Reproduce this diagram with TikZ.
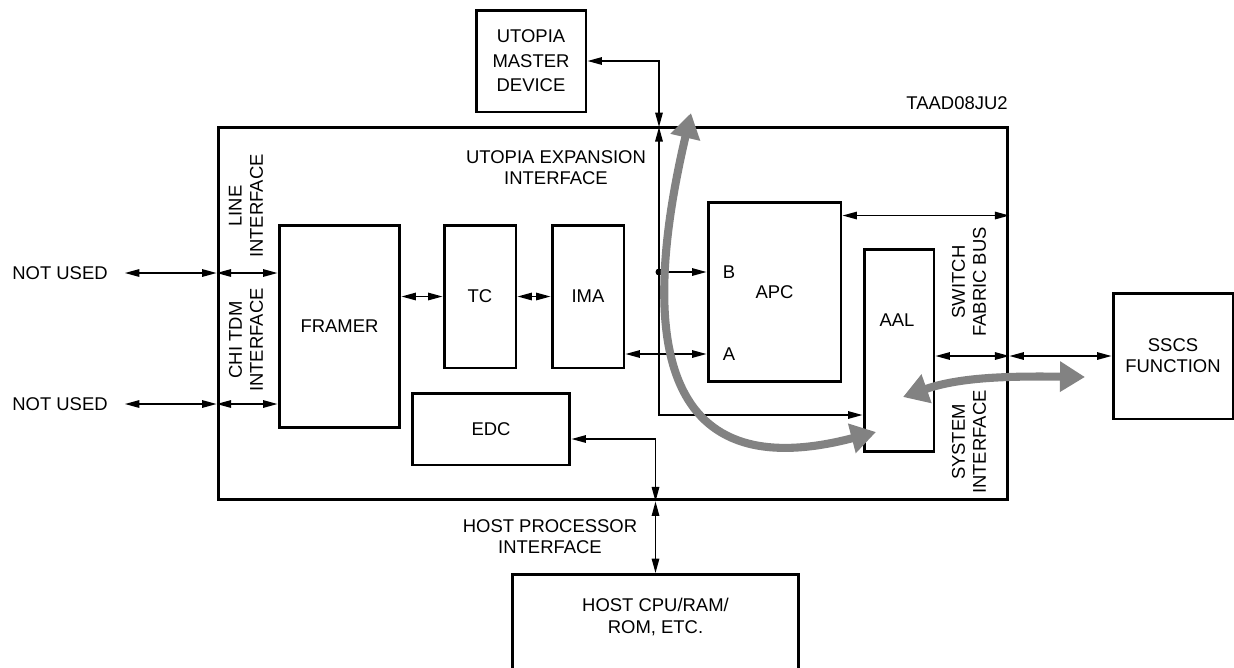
\documentclass[tikz,border=0pt]{standalone}
\usepackage{fontspec}
\setmainfont{Liberation Sans}
\usetikzlibrary{arrows.meta}
\definecolor{flow}{HTML}{828282}

\begin{document}
\begin{tikzpicture}[x=0.02cm, y=-0.02cm,
    every node/.style={font=\fontsize{10.5}{12}\selectfont, align=center},
    blk/.style={draw, line width=1.7pt, inner sep=0pt},
    dbl/.style={{Triangle[length=0.29cm,width=0.15cm]}-{Triangle[length=0.29cm,width=0.15cm]}, line width=0.85pt},
    one/.style={-{Triangle[length=0.29cm,width=0.15cm]}, line width=0.85pt},
    gflow/.style={flow, line width=4.6pt, {Triangle[length=0.5cm,width=0.58cm]}-{Triangle[length=0.5cm,width=0.58cm]}}]
        \useasboundingbox (0,0) rectangle (1234,667);
        \clip (0,0) rectangle (1234,667);

        % blocks
        \node[blk, minimum width=15.8cm, minimum height=7.46cm] (chip) at (613,313.5) {};
        \node[blk, minimum width=2.2cm,  minimum height=2.04cm] (master) at (531,61) {UTOPIA\\[2pt]MASTER\\[2pt]DEVICE};
        \node[blk, minimum width=2.42cm, minimum height=4.06cm] (framer) at (339.5,326.5) {FRAMER};
        \node[blk, minimum width=1.44cm, minimum height=2.86cm] (tc) at (480,296.5) {TC};
        \node[blk, minimum width=1.44cm, minimum height=2.86cm] (ima) at (588,296.5) {IMA};
        \node[blk, minimum width=3.16cm, minimum height=1.44cm] (edc) at (491,429) {EDC};
        \node[blk, minimum width=2.66cm, minimum height=3.6cm]  (apc) at (774.5,292) {APC};
        \node[blk, minimum width=1.4cm,  minimum height=4.06cm] (aal) at (899,350.5) {};
        \node (aallbl) at (897,320) {AAL};
        \node[blk, minimum width=2.4cm,  minimum height=2.52cm] (sscs) at (1173,356) {SSCS\\FUNCTION};
        \node[blk, minimum width=5.74cm, minimum height=2.7cm, anchor=north] (host) at (655.5,573) {};
        \node (hostlbl) at (655.5,617) {HOST CPU/RAM/\\ROM, ETC.};

        % labels
        \node (nu1) at (60,273) {NOT USED};
        \node (nu2) at (60,404) {NOT USED};
        \node (taad) at (957,103) {TAAD08JU2};
        \node (utx) at (556,168) {UTOPIA EXPANSION\\INTERFACE};
        \node (hpi) at (550,537) {HOST PROCESSOR\\INTERFACE};
        \node[rotate=90] (lineif) at (246,206) {LINE\\INTERFACE};
        \node[rotate=90] (chiif) at (246,340) {CHI TDM\\INTERFACE};
        \node[rotate=90] (sfb) at (969,282) {SWITCH\\FABRIC BUS};
        \node[rotate=90] (sysif) at (969,442) {SYSTEM\\INTERFACE};
        \node (portb) at (729,272) {B};
        \node (porta) at (729,354) {A};

        \coordinate (ubus) at (659,127);
        \coordinate (uknee) at (659,415);
        \coordinate (sfbus) at ([yshift=-0.3cm]apc.north east);
        \coordinate (hbus) at (chip.south -| host.north);

        % thin connectors
        \draw[dbl] ([xshift=0.22cm]nu1.east) -- (nu1.east -| chip.west);
        \draw[dbl] (nu1.east -| chip.west) -- (nu1.east -| framer.west);
        \draw[dbl] ([xshift=0.22cm]nu2.east) -- (nu2.east -| chip.west);
        \draw[dbl] (nu2.east -| chip.west) -- (nu2.east -| framer.west);
        \draw[dbl] (framer.east |- tc.center) -- (tc.west);
        \draw[dbl] (tc.east) -- (ima.west);
        \draw[dbl] (ima.east |- porta) -- (apc.west |- porta);
        \draw[dbl] (master.east) -| (ubus);
        \draw[dbl] (ubus) |- (aal.west |- uknee);
        \draw[one] (ubus |- portb) -- (apc.west |- portb);
        \fill (ubus |- portb) circle (0.07cm);
        \draw[dbl] (sfbus) -- (sfbus -| chip.east);
        \draw[dbl] (aal.east |- sscs.west) -- (chip.east |- sscs.west);
        \draw[dbl] (chip.east |- sscs.west) -- (sscs.west);
        \draw[dbl] ([yshift=-0.2cm]edc.east) -| (hbus);
        \draw[dbl] (hbus) -- (host.north);

        % data paths
        \draw[gflow] (691,113) .. controls (640,330) and (655,490) .. (876,432);
        \draw[gflow] (903,397) .. controls (960,377) and (1010,376) .. (1085,377);
      \end{tikzpicture}
\end{document}
